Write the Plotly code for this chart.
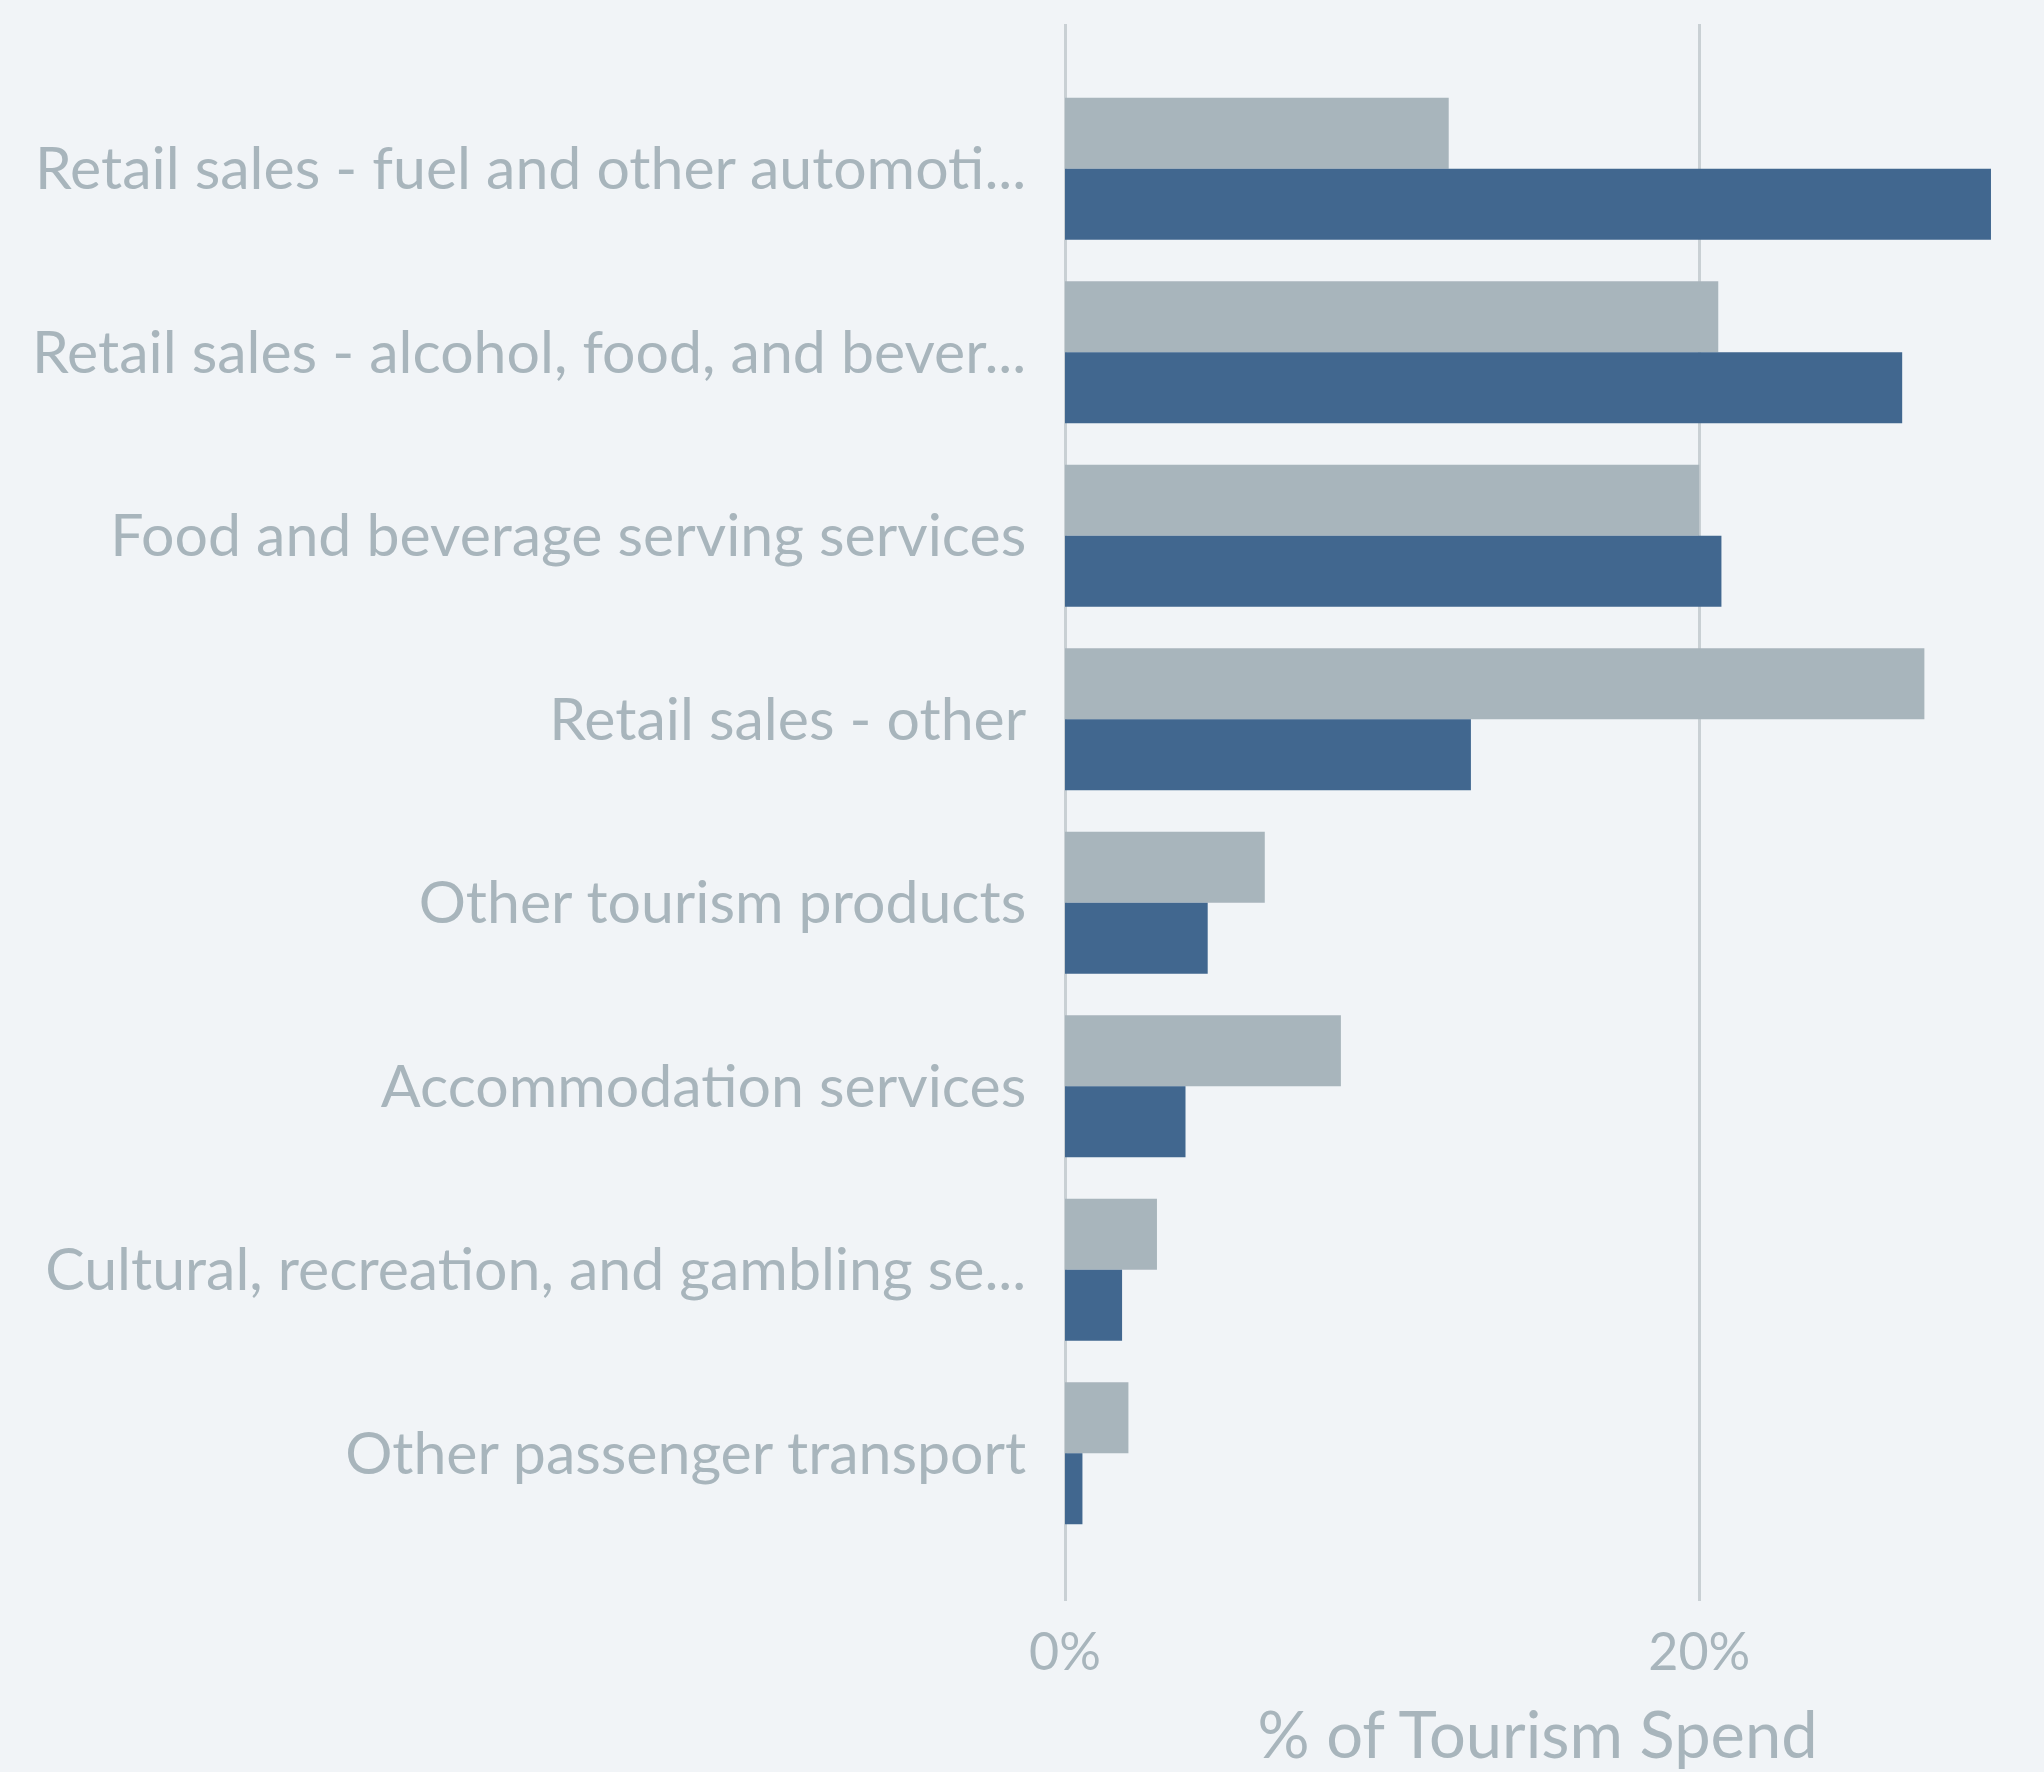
import plotly.graph_objects as go

# Categories, top to bottom as they appear in the chart
categories = [
    "Retail sales - fuel and other automoti...",
    "Retail sales - alcohol, food, and bever...",
    "Food and beverage serving services",
    "Retail sales - other",
    "Other tourism products",
    "Accommodation services",
    "Cultural, recreation, and gambling se...",
    "Other passenger transport",
]

# % of tourism spend, two series (grey on top, blue underneath)
grey_values = [12.1, 20.6, 20.0, 27.1, 6.3, 8.7, 2.9, 2.0]
blue_values = [29.2, 26.4, 20.7, 12.8, 4.5, 3.8, 1.8, 0.55]

x_tick_values = [0, 20]
x_tick_labels = ["0%", "20%"]

GREY = "#a8b5bc"
BLUE = "#41678f"
TEXT = "#a8b5bc"
GRID = "#c9d0d4"
BG = "#f1f4f7"
FONT = "Segoe UI Light, Segoe UI, Lato, sans-serif"

fig = go.Figure()

fig.add_trace(go.Bar(
    y=categories,
    x=grey_values,
    orientation="h",
    marker_color=GREY,
    marker_line_width=0,
    name="Grey",
))

fig.add_trace(go.Bar(
    y=categories,
    x=blue_values,
    orientation="h",
    marker_color=BLUE,
    marker_line_width=0,
    name="Blue",
))

fig.update_layout(
    width=2044,
    height=1772,
    barmode="group",
    bargap=0.226,
    bargroupgap=0,
    showlegend=False,
    paper_bgcolor=BG,
    plot_bgcolor=BG,
    margin={"l": 1065, "r": 34, "t": 24, "b": 171, "autoexpand": False},
    font={"family": FONT, "color": TEXT},
    xaxis={
        "range": [0, 29.8],
        "tickvals": x_tick_values,
        "ticktext": x_tick_labels,
        "tickfont": {"size": 52},
        "showgrid": True,
        "gridcolor": GRID,
        "gridwidth": 3,
        "zeroline": True,
        "zerolinecolor": GRID,
        "zerolinewidth": 3,
        "showline": False,
        "ticks": "outside",
        "ticklen": 6,
        "tickcolor": "rgba(0,0,0,0)",
        "title": {"text": "% of Tourism Spend", "font": {"size": 65}, "standoff": 48},
        "automargin": False,
    },
    yaxis={
        "categoryorder": "array",
        "categoryarray": categories,
        "range": [7.805, -0.789],
        "tickfont": {"size": 59},
        "showgrid": False,
        "zeroline": False,
        "showline": False,
        "ticks": "outside",
        "ticklen": 26,
        "tickcolor": "rgba(0,0,0,0)",
        "automargin": False,
    },
)

# drop the default page margin so the figure sits flush with the window
fig.write_html(
    "out.html",
    config={"displayModeBar": False},
    post_script="document.body.style.margin='0';document.body.style.background='%s';" % BG,
)
